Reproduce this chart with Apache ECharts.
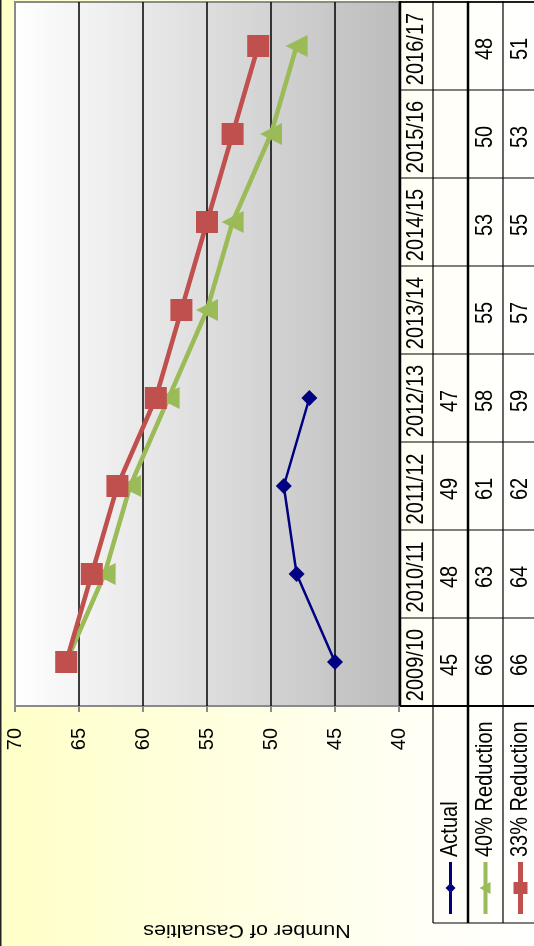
<!DOCTYPE html>
<html><head><meta charset="utf-8">
<script src="https://cdn.jsdelivr.net/npm/echarts@6/dist/echarts.min.js"></script>
<style>html,body{margin:0;padding:0;background:#fff}#c{width:534px;height:946px}</style>
</head><body><div id="c"></div>
<script>
const categories = ['2009/10','2010/11','2011/12','2012/13','2013/14','2014/15','2015/16','2016/17'];
const actual = [45, 48, 49, 47, null, null, null, null];
const reduction40 = [66, 63, 61, 58, 55, 53, 50, 48];
const reduction33 = [66, 64, 62, 59, 57, 55, 53, 51];
const seriesNames = ['Actual', '40% Reduction', '33% Reduction'];
const seriesColors = ['#000080', '#9bbb59', '#c0504d'];
const axisTitle = 'Number of Casualties';

const FONT = '"Liberation Sans", Arial, sans-serif';
const chart = echarts.init(document.getElementById('c'), null, {renderer: 'canvas'});

const option = {
  animation: false,
  backgroundColor: {type: 'linear', x: 0, y: 0, x2: 1, y2: 0,
    colorStops: [{offset: 0, color: '#ffffc8'}, {offset: 0.75, color: '#fffff4'}, {offset: 1, color: '#ffffff'}]},
  grid: {left: 15, right: 135, top: 2, bottom: 240, show: true,
    backgroundColor: {type: 'linear', x: 0, y: 0, x2: 1, y2: 0,
      colorStops: [{offset: 0, color: '#ffffff'}, {offset: 1, color: '#bcbcbc'}]},
    borderColor: '#8a8a8a', borderWidth: 2},
  legend: {show: false},
  xAxis: {type: 'value', inverse: true, min: 40, max: 70, interval: 5, position: 'bottom',
    axisLine: {show: false},
    axisTick: {show: true, length: 6, lineStyle: {color: '#8a8a8a', width: 2}},
    axisLabel: {rotate: 90, margin: 22, fontSize: 20, fontFamily: FONT, color: '#000'},
    splitLine: {show: true, showMinLine: false, showMaxLine: false, lineStyle: {color: '#000', width: 1.5}}},
  yAxis: {type: 'category', data: categories, boundaryGap: true,
    axisLine: {show: false}, axisTick: {show: false}, axisLabel: {show: false}, splitLine: {show: false}},
  series: [
    {name: seriesNames[0], type: 'line', data: actual, symbol: 'diamond', symbolSize: 16,
      lineStyle: {width: 2.5, color: seriesColors[0]}, itemStyle: {color: seriesColors[0]}, z: 4},
    {name: seriesNames[1], type: 'line', data: reduction40, symbol: 'triangle', symbolSize: 22, symbolRotate: 90,
      lineStyle: {width: 4.5, color: seriesColors[1]}, itemStyle: {color: seriesColors[1]}, z: 2},
    {name: seriesNames[2], type: 'line', data: reduction33, symbol: 'rect', symbolSize: 22,
      lineStyle: {width: 4.5, color: seriesColors[2]}, itemStyle: {color: seriesColors[2]}, z: 3}
  ]
};
chart.setOption(option);

// Data table + legend built from the arrays
const yC = categories.map(c => chart.convertToPixel({yAxisIndex: 0}, c));
const band = Math.abs(yC[0] - yC[1]);
const tTop = Math.min(...yC) - band / 2;
const tBottom = Math.max(...yC) + band / 2;
const tLeft = chart.convertToPixel({xAxisIndex: 0}, 40) + 1;
const colW = [33, 35, 35, 35];
const colX = [tLeft];
colW.forEach(w => colX.push(colX[colX.length - 1] + w));
const legendBottom = 923;
const els = [];
const txt = (x, y, t, rot, align, size, sx, sy) => ({type: 'text', x: x, y: y, rotation: rot, z: 10,
  scaleX: sx || 1, scaleY: sy || 1,
  style: {text: t, fill: '#000', fontSize: size || 20, fontFamily: FONT, align: align || 'center', verticalAlign: 'middle'}});
const ln = (x1, y1, x2, y2, w) => ({type: 'line', z: 9, shape: {x1, y1, x2, y2}, style: {stroke: '#000', lineWidth: w}});

// outer left frame
els.push({type: 'rect', shape: {x: 0, y: 0, width: 1.5, height: 946}, style: {fill: '#222'}, z: 9});
// table lines
els.push(ln(colX[0], tTop - 1, colX[0], tBottom, 2.5));
els.push(ln(colX[1], tTop - 1, colX[1], legendBottom, 1.2));
els.push(ln(colX[2], tTop - 1, colX[2], legendBottom, 2.5));
els.push(ln(colX[3], tTop - 1, colX[3], legendBottom, 1.2));
els.push(ln(colX[0], tTop, colX[4], tTop, 1.5));
for (let i = 0; i < categories.length; i++) {
  els.push(ln(colX[0], yC[i] - band / 2, colX[4], yC[i] - band / 2, 1.2));
}
els.push(ln(colX[0], tBottom, colX[4], tBottom, 2));
els.push(ln(colX[1], legendBottom, colX[4], legendBottom, 1.2));

const seriesData = [actual, reduction40, reduction33];
categories.forEach((c, i) => {
  els.push(txt((colX[0] + colX[1]) / 2, yC[i] + 3, c, Math.PI / 2, 'center', 20, 1, 1.2));
  seriesData.forEach((arr, s) => {
    if (arr[i] != null) els.push(txt((colX[s + 1] + colX[s + 2]) / 2, yC[i] + 3, String(arr[i]), Math.PI / 2, 'center', 20, 1, 1.2));
  });
});

// legend entries
const symY = 888;
seriesNames.forEach((n, s) => {
  const cx = (colX[s + 1] + colX[s + 2]) / 2;
  els.push(txt(cx, 857, n, Math.PI / 2, 'left', 20, 1, 1.2));
  els.push({type: 'line', z: 10, shape: {x1: cx, y1: 862, x2: cx, y2: 914},
    style: {stroke: seriesColors[s], lineWidth: [3, 4, 5][s]}});
  if (s === 0) {
    els.push({type: 'polygon', z: 11, shape: {points: [[cx, symY - 5], [cx + 5, symY], [cx, symY + 5], [cx - 5, symY]]}, style: {fill: seriesColors[s]}});
  } else if (s === 1) {
    els.push({type: 'polygon', z: 11, shape: {points: [[cx - 6, symY], [cx + 5, symY - 6], [cx + 5, symY + 6]]}, style: {fill: seriesColors[s]}});
  } else {
    els.push({type: 'rect', z: 11, shape: {x: cx - 7, y: symY - 6, width: 14, height: 12}, style: {fill: seriesColors[s]}});
  }
});

// axis title (upside down)
els.push(txt(247, 930, axisTitle, Math.PI, 'center', 18, 1.2, 1));

chart.setOption({graphic: {elements: els}});
</script></body></html>
